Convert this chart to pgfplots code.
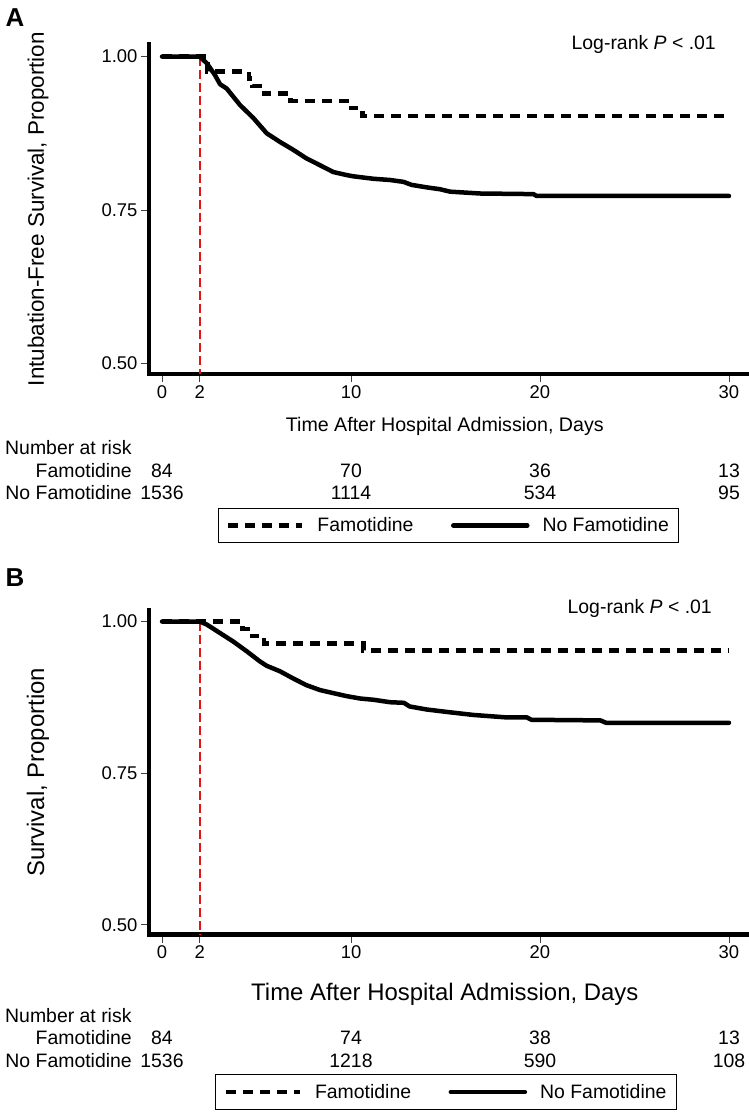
\documentclass[border=0pt]{standalone}
\usepackage{fontspec}
\setmainfont{Liberation Sans}
\usepackage{pgfplots}
\pgfplotsset{compat=1.18}
\definecolor{kmred}{RGB}{228,20,20}

\pgfplotsset{
  kmaxis/.style={
    scale only axis, width=600bp, anchor=south west,
    xmin=-0.69, xmax=31.06,
    axis x line*=bottom, axis y line*=left,
    axis line style={line width=4.5bp, line cap=rect, -},
    every outer x axis line/.append style={-},
    every outer y axis line/.append style={-},
    xtick={0,2,10,20,30}, ytick={0.5,0.75,1}, yticklabels={0.50,0.75,1.00},
    tick align=outside, major tick length=8bp,
    tick style={line width=0.8bp, black!75},
    minor tick num=0,
    tick label style={font=\fontsize{18.5}{22}\selectfont},
    /pgf/number format/assume math mode=true,
    clip=false,
    legend columns=2,
    legend cell align=left,
    legend image code/.code={\draw[##1] (0bp,0bp) -- (74bp,0bp);},
    legend style={draw=black, line width=0.8bp, anchor=center,
      font=\fontsize{19.5}{23}\selectfont, inner xsep=8bp, inner ysep=7.5bp,
      /tikz/every odd column/.append style={column sep=11bp},
      /tikz/every even column/.append style={column sep=35.5bp}},
  },
  famstyle/.style={black, line width=4.5bp, dash pattern=on 10bp off 7bp},
  nofamstyle/.style={black, line width=4.5bp, line cap=round, line join=round},
  redline/.style={draw=kmred, color=kmred, line width=1.5bp, dash pattern=on 9bp off 4bp, forget plot},
}

\newcommand{\riskrow}[6]{%
  \node[anchor=base east, inner sep=0] at (132bp,-#1bp) {#2};
  \node[anchor=base, inner sep=0] at (162bp,-#1bp) {#3};
  \node[anchor=base, inner sep=0] at (351bp,-#1bp) {#4};
  \node[anchor=base, inner sep=0] at (540bp,-#1bp) {#5};
  \node[anchor=base, inner sep=0] at (729bp,-#1bp) {#6};
}

\begin{document}
\begin{tikzpicture}
\useasboundingbox (0,0) rectangle (749bp,-1114bp);

% ---------------- Panel A ----------------
\begin{axis}[kmaxis, at={(149bp,-374bp)}, height=329.7bp, ymin=0.483, ymax=1.020,
  xlabel={Time After Hospital Admission, Days},
  xlabel style={at={(axis description cs:0.493,-0.1577)}, anchor=center, font=\fontsize{19.7}{23}\selectfont},
  ylabel={Intubation-Free Survival, Proportion},
  ylabel style={at={(axis description cs:-0.185,0.5)}, anchor=center, font=\fontsize{22.5}{26}\selectfont},
  legend style={at={(axis description cs:0.499,-0.4595)}}]
\addplot[redline] coordinates {(2,1.0) (2,0.483)};
\addplot[famstyle, const plot] coordinates {
 (0,1.000) (2.4,0.976) (4.6,0.964) (4.8,0.952) (5.4,0.940) (6.8,0.928)
 (10.0,0.916) (10.6,0.903) (30,0.903)};
\addlegendentry{Famotidine}
\addplot[nofamstyle] coordinates {
 (0,1.000) (2,1.000) (2.37,0.989) (2.8,0.970) (3.07,0.955) (3.42,0.948)
 (4.13,0.921) (4.83,0.900) (5.54,0.875) (6.24,0.861) (6.95,0.848)
 (7.65,0.834) (8.36,0.823) (9.06,0.812) (9.77,0.807) (10.12,0.805)
 (11.18,0.801) (12.06,0.799) (12.77,0.796) (13.21,0.791) (14.0,0.787)
 (14.7,0.784) (15.24,0.780) (16.83,0.777) (19.65,0.776) (19.82,0.773)
 (30,0.773)};
\addlegendentry{No Famotidine}
\end{axis}

% ---------------- Panel B ----------------
\begin{axis}[kmaxis, at={(149bp,-934.5bp)}, height=324.5bp, ymin=0.484, ymax=1.019,
  xlabel={Time After Hospital Admission, Days},
  xlabel style={at={(axis description cs:0.493,-0.1834)}, anchor=center, font=\fontsize{24}{28}\selectfont},
  ylabel={Survival, Proportion},
  ylabel style={at={(axis description cs:-0.185,0.5)}, anchor=center, font=\fontsize{24}{28}\selectfont},
  legend style={at={(axis description cs:0.495,-0.4854)}}]
\addplot[redline] coordinates {(2,1.0) (2,0.484)};
\addplot[famstyle, const plot] coordinates {
 (0,1.000) (4.25,0.988) (4.75,0.976) (5.4,0.964) (10.65,0.952) (30,0.952)};
\addlegendentry{Famotidine}
\addplot[nofamstyle] coordinates {
 (0,1.000) (2,1.000) (2.37,0.995) (3.07,0.981) (3.77,0.967) (4.48,0.951)
 (5.19,0.934) (5.54,0.927) (6.24,0.918) (6.95,0.906) (7.65,0.895)
 (8.36,0.887) (9.06,0.882) (9.77,0.877) (10.5,0.873) (11.2,0.871)
 (12.06,0.867) (12.8,0.866) (13.1,0.860) (14.0,0.855) (15.06,0.851)
 (16.47,0.846) (18.2,0.842) (19.3,0.842) (19.55,0.838) (23.2,0.837)
 (23.5,0.833) (30,0.833)};
\addlegendentry{No Famotidine}
\end{axis}

% ---------------- Text ----------------
\node[font=\bfseries\fontsize{26}{30}\selectfont] at (15bp,-18bp) {A};
\node[font=\bfseries\fontsize{26}{30}\selectfont] at (15bp,-578bp) {B};
\node[anchor=east, inner sep=0, font=\fontsize{19.5}{23}\selectfont] at (716bp,-44bp) {Log-rank \textit{P} < .01};
\node[anchor=east, inner sep=0, font=\fontsize{19.5}{23}\selectfont] at (712bp,-608bp) {Log-rank \textit{P} < .01};

\begin{scope}[font=\fontsize{19.5}{23}\selectfont]
\node[anchor=base west, inner sep=0] at (5bp,-454bp) {Number at risk};
\riskrow{477}{Famotidine}{84}{70}{36}{13}
\riskrow{499}{No Famotidine}{1536}{1114}{534}{95}
\node[anchor=base west, inner sep=0] at (5bp,-1022bp) {Number at risk};
\riskrow{1044}{Famotidine}{84}{74}{38}{13}
\riskrow{1067}{No Famotidine}{1536}{1218}{590}{108}
\end{scope}
\end{tikzpicture}
\end{document}
